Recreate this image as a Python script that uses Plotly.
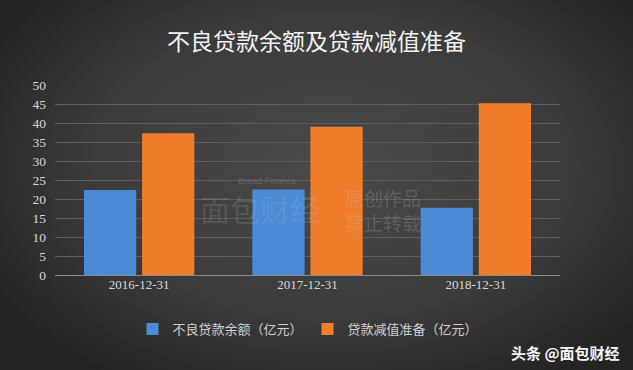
import base64
import plotly.graph_objects as go

categories = ["2016-12-31", "2017-12-31", "2018-12-31"]
npl_balance = [22.4, 22.5, 17.7]
impairment = [37.3, 39.0, 45.2]
series_names = ["不良贷款余额（亿元）", "贷款减值准备（亿元）"]
y_ticks = [0, 5, 10, 15, 20, 25, 30, 35, 40, 45, 50]
title_text = "不良贷款余额及贷款减值准备"

W, H = 633, 370
L, R, T, B = 55, 73, 85, 95
pw, ph = W - L - R, H - T - B

svg = f'''<svg xmlns="http://www.w3.org/2000/svg" width="{W}" height="{H}" viewBox="0 0 {W} {H}" preserveAspectRatio="none">
<defs><radialGradient id="g" cx="0.52" cy="0.45" r="0.62" gradientTransform="translate(0.52 0.45) scale(1 1.1) translate(-0.52 -0.45)">
<stop offset="0" stop-color="#4a4a4a"/><stop offset="0.6" stop-color="#3b3b3b"/><stop offset="1" stop-color="#242424"/></radialGradient></defs>
<rect width="{W}" height="{H}" fill="url(#g)"/></svg>'''
bg_src = "data:image/svg+xml;base64," + base64.b64encode(svg.encode()).decode()

cjk = "Noto Sans CJK SC"
serif = "Liberation Serif"

fig = go.Figure()
fig.add_trace(go.Bar(x=categories, y=npl_balance, name=series_names[0],
                     marker=dict(color="#4a8ad6", line=dict(width=0))))
fig.add_trace(go.Bar(x=categories, y=impairment, name=series_names[1],
                     marker=dict(color="#f07d2c", line=dict(width=0))))

fig.update_layout(
    width=W, height=H,
    margin=dict(l=L, r=R, t=T, b=B, pad=0),
    paper_bgcolor="#333333",
    plot_bgcolor="rgba(0,0,0,0)",
    barmode="group", bargap=0.31, bargroupgap=0.1,
    showlegend=True,
    title=dict(text=title_text, x=0.5, xref="container", xanchor="center",
               y=1 - 42 / H, yref="container", yanchor="middle",
               font=dict(family=cjk, size=23, color="#f2f2f2")),
    legend=dict(orientation="h", x=308 / W, xref="container", xanchor="center",
                y=1 - 329 / H, yref="container", yanchor="middle",
                font=dict(family=cjk, size=13, color="#d0d0d0"),
                bgcolor="rgba(0,0,0,0)", itemwidth=30, tracegroupgap=0),
    images=[dict(source=bg_src, xref="paper", yref="paper",
                 x=-L / pw, y=1 + T / ph, sizex=W / pw, sizey=H / ph,
                 xanchor="left", yanchor="top", sizing="stretch", layer="below")],
)
fig.update_xaxes(type="category", showgrid=False, showline=False, zeroline=False, ticks="",
                 tickfont=dict(family=serif, size=13, color="#d8d8d8"))
fig.update_yaxes(range=[0, 50], tickvals=y_ticks, showgrid=True,
                 gridcolor="#5e5e5e", gridwidth=1, zeroline=True,
                 zerolinecolor="#8a8a8a", zerolinewidth=1, showline=False,
                 ticks="", ticklabelstandoff=8,
                 tickfont=dict(family=serif, size=13.5, color="#d8d8d8"))

def px_x(x):
    return (x - L) / pw

def px_y(y):
    return 1 - (y - T) / ph

# faint watermark
fig.add_annotation(text="原创作品<br>禁止转载", xref="paper", yref="paper",
                   x=px_x(343), y=px_y(210), xanchor="left", yanchor="middle",
                   showarrow=False, align="left",
                   font=dict(family=cjk, size=19, color="rgba(200,200,200,0.22)"))
fig.add_annotation(text="面包财经", xref="paper", yref="paper",
                   x=px_x(198), y=px_y(208), xanchor="left", yanchor="middle",
                   showarrow=False,
                   font=dict(family=cjk, size=30, color="rgba(200,200,200,0.16)"))
fig.add_annotation(text="Bread Finance", xref="paper", yref="paper",
                   x=px_x(236), y=px_y(181), xanchor="left", yanchor="middle",
                   showarrow=False,
                   font=dict(family="Liberation Sans", size=9, color="rgba(200,200,200,0.25)"))
# source mark
fig.add_annotation(text="<b>头条 @面包财经</b>", xref="paper", yref="paper",
                   x=px_x(622), y=px_y(352), xanchor="right", yanchor="middle",
                   showarrow=False,
                   font=dict(family=cjk, size=15, color="#f5f5f5"))

fig.write_html("out.html", config={"displayModeBar": False},
               post_script="document.body.style.margin='0';document.body.style.background='#333';")
